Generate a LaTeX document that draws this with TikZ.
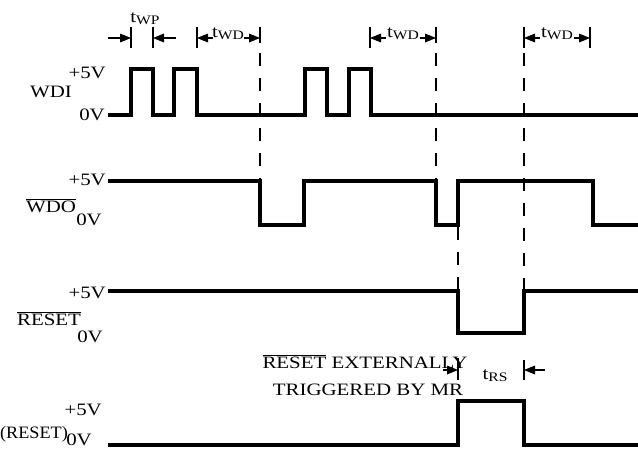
\documentclass[tikz,border=0pt]{standalone}
\usepackage{fontspec}
\setmainfont{Liberation Serif}[FakeStretch=1.2]
\newcommand{\tlab}[1]{t\raisebox{-2.5pt}{\fontsize{13}{14}\selectfont #1}}
\newcommand{\ovl}[1]{$\overline{\mbox{#1}}$}
\begin{document}
\begin{tikzpicture}[x=1pt,y=-1pt]
\tikzstyle{every node}+=[inner sep=0pt,font=\fontsize{17.4}{20}\selectfont]
\tikzstyle{sig}=[line width=3.6pt]
\tikzstyle{guide}=[line width=1.6pt,dash pattern=on 13pt off 12pt]
\tikzstyle{dim}=[line width=1.6pt]
\useasboundingbox (0,0) rectangle (638,455);
% signals
\draw [sig] (108,115) -- (131,115) -- (131,69) -- (153,69) -- (153,115) -- (174,115) -- (174,69) -- (197,69) -- (197,115) -- (305,115) -- (305,69) -- (327,69) -- (327,115) -- (349,115) -- (349,69) -- (371,69) -- (371,115) -- (640,115);
\draw [sig] (108,181) -- (260,181) -- (260,225) -- (304,225) -- (304,181) -- (436,181) -- (436,225) -- (458,225) -- (458,181) -- (593,181) -- (593,225) -- (640,225);
\draw [sig] (108,291) -- (458,291) -- (458,333) -- (524,333) -- (524,291) -- (640,291);
\draw [sig] (108,445) -- (458,445) -- (458,401) -- (524,401) -- (524,445) -- (640,445);
% dashed guides
\draw [guide] (260,53) -- (260,181);
\draw [guide] (436,53) -- (436,181);
\draw [guide] (458,227) -- (458,291);
\draw [guide] (524,53) -- (524,291);
% tWP
\draw [dim] (131,27) -- (131,48);
\draw [dim] (153,27) -- (153,48);
\draw [dim] (108,38) -- (122,38);
\fill (131,38) -- (120,33.5) -- (120,42.5);
\draw [dim] (176,38) -- (162,38);
\fill (153,38) -- (164,33.5) -- (164,42.5);
\draw (145,22) node [anchor=base] {\tlab{WP}};
% tWD
\draw [dim] (197,27) -- (197,48);
\draw [dim] (260,27) -- (260,43);
\draw [dim] (206,38) -- (213,38);
\fill (197,38) -- (208,33.5) -- (208,42.5);
\draw [dim] (244,38) -- (251,38);
\fill (260,38) -- (249,33.5) -- (249,42.5);
\draw (228,37) node [anchor=base] {\tlab{WD}};
\draw [dim] (370,27) -- (370,48);
\draw [dim] (436,27) -- (436,43);
\draw [dim] (379,38) -- (386,38);
\fill (370,38) -- (381,33.5) -- (381,42.5);
\draw [dim] (420,38) -- (427,38);
\fill (436,38) -- (425,33.5) -- (425,42.5);
\draw (403,37) node [anchor=base] {\tlab{WD}};
\draw [dim] (524,27) -- (524,48);
\draw [dim] (590,27) -- (590,48);
\draw [dim] (533,38) -- (540,38);
\fill (524,38) -- (535,33.5) -- (535,42.5);
\draw [dim] (574,38) -- (581,38);
\fill (590,38) -- (579,33.5) -- (579,42.5);
\draw (557,37) node [anchor=base] {\tlab{WD}};
% tRS
\draw [dim] (458,358) -- (458,380);
\draw [dim] (524,360) -- (524,380);
\draw [dim] (443,370) -- (449,370);
\fill (458,370) -- (447,365.5) -- (447,374.5);
\draw [dim] (545,370) -- (533,370);
\fill (524,370) -- (535,365.5) -- (535,374.5);
\draw (495,379) node [anchor=base] {\tlab{RS}};
% labels
\draw (51,97) node [anchor=base] {WDI};
\draw (106,78) node [anchor=base east] {+5V};
\draw (105,120) node [anchor=base east] {0V};
\draw (51,212) node [anchor=base] {\ovl{WDO}};
\draw (106,185) node [anchor=base east] {+5V};
\draw (102,225) node [anchor=base east] {0V};
\draw (49,325) node [anchor=base] {\ovl{RESET}};
\draw (106,298) node [anchor=base east] {+5V};
\draw (103,342) node [anchor=base east] {0V};
\draw (0,438) node [anchor=base west] {\scalebox{0.87}[1]{(RESET)}};
\draw (102,415) node [anchor=base east] {+5V};
\draw (92,445) node [anchor=base east] {0V};
\draw (365,368) node [anchor=base] {\ovl{RESET} EXTERNALLY};
\draw (368,395) node [anchor=base] {TRIGGERED BY MR};
\end{tikzpicture}
\end{document}
